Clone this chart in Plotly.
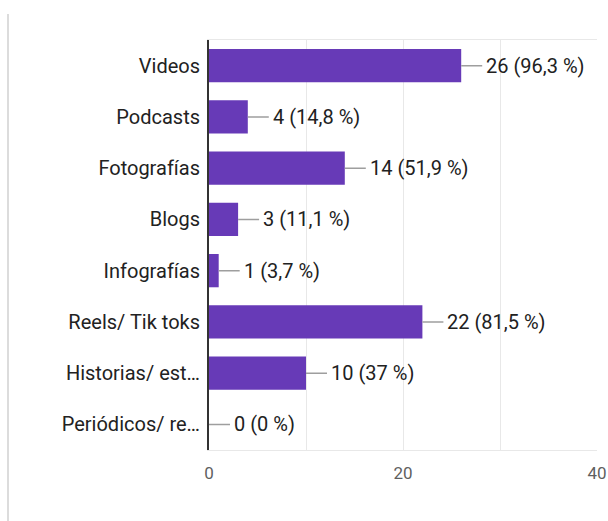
import plotly.graph_objects as go

categories = ["Videos", "Podcasts", "Fotografías", "Blogs", "Infografías",
              "Reels/ Tik toks", "Historias/ est…", "Periódicos/ re…"]
counts = [26, 4, 14, 3, 1, 22, 10, 0]
percents = ["96,3", "14,8", "51,9", "11,1", "3,7", "81,5", "37", "0"]
tick_vals = [0, 10, 20, 30, 40]
tick_text = ["0", "", "20", "", "40"]

W, H = 608, 521
ML, MR, MT, MB = 209, 11, 40, 71
plot_w = W - ML - MR
plot_h = H - MT - MB

fig = go.Figure()
fig.add_trace(go.Bar(
    x=counts, y=categories, orientation="h",
    marker=dict(color="#673ab7", line=dict(width=0)),
    hoverinfo="skip",
))

for c, cat, p in zip(counts, categories, percents):
    fig.add_annotation(
        x=c, y=cat, xref="x", yref="y",
        text=f"{c} ({p} %)",
        showarrow=True, arrowhead=0, arrowwidth=1.5, arrowcolor="#9e9e9e",
        ax=24, ay=0, xanchor="left", yanchor="middle",
        standoff=0, startstandoff=3,
        font=dict(family="Roboto", size=20, color="#212121"),
        borderpad=0,
    )

# card left border
card_x = (8 - ML) / plot_w
fig.add_shape(type="line", xref="paper", yref="paper",
              x0=card_x, x1=card_x, y0=-MB / plot_h, y1=(MT - 14) / plot_h + 1,
              line=dict(color="#dcdcdc", width=2), layer="below")

fig.update_layout(
    width=W, height=H,
    margin=dict(l=ML, r=MR, t=MT, b=MB, autoexpand=False),
    paper_bgcolor="white", plot_bgcolor="white",
    bargap=0.35,
    showlegend=False,
    font=dict(family="Roboto", size=20, color="#222222"),
    xaxis=dict(
        range=[0, 40], tickvals=tick_vals, ticktext=tick_text,
        showgrid=True, gridcolor="#e8e8e8", gridwidth=1,
        showline=True, mirror=True, linecolor="#e8e8e8", linewidth=1,
        zeroline=False, ticks="", ticklabelstandoff=8,
        tickfont=dict(family="Roboto", size=17, color="#5f5f5f"),
        fixedrange=True, automargin=False,
    ),
    yaxis=dict(
        autorange="reversed", showgrid=False, zeroline=False,
        showline=True, linecolor="#333333", linewidth=2,
        ticks="", ticklabelstandoff=3,
        tickfont=dict(family="Roboto", size=20, color="#222222"),
        fixedrange=True, automargin=False,
    ),
)

fig.write_html(
    "out.html",
    config={"displayModeBar": False},
    post_script="document.body.style.margin='0';"
                "document.documentElement.style.overflow='hidden';"
                "document.body.style.overflow='hidden';",
)
